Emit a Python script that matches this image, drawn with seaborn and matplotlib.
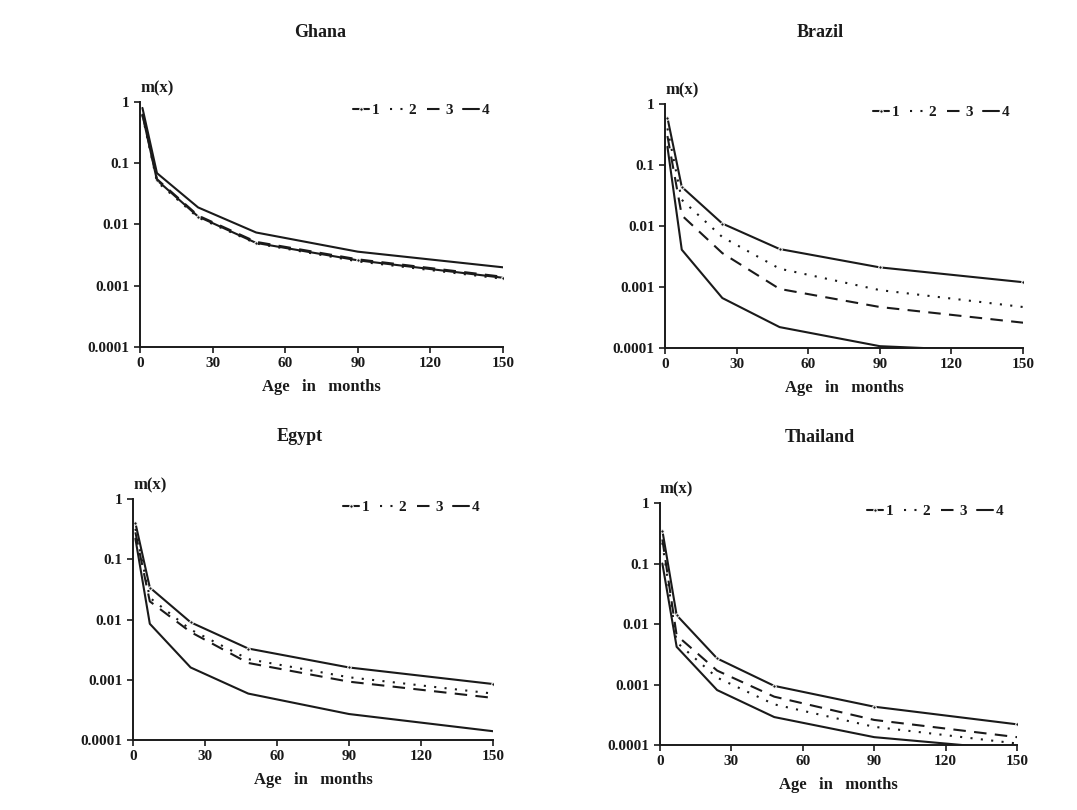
import numpy as np
import pandas as pd
import matplotlib
matplotlib.use('Agg')
import matplotlib.pyplot as plt
import seaborn as sns

# Edades (meses) en las que se leen las curvas
ages = [1, 7, 24, 48, 90, 150]

# m(x), una lista por pais y por curva (1..4)
ghana_1 = [0.62, 0.053, 0.0135, 0.0050, 0.0026, 0.00135]
ghana_2 = [0.60, 0.050, 0.0130, 0.0049, 0.0025, 0.00130]
ghana_3 = [0.64, 0.055, 0.0140, 0.0052, 0.0027, 0.00140]
ghana_4 = [0.80, 0.069, 0.0190, 0.0074, 0.0036, 0.00200]

brazil_1 = [0.60, 0.044, 0.0110, 0.0042, 0.0021, 0.00120]
brazil_2 = [0.40, 0.027, 0.0066, 0.0020, 0.00089, 0.00047]
brazil_3 = [0.30, 0.015, 0.0036, 0.00093, 0.00047, 0.00026]
brazil_4 = [0.20, 0.0041, 0.00066, 0.00022, 0.000107, 0.000085]

egypt_1 = [0.40, 0.034, 0.0090, 0.0033, 0.0016, 0.00085]
egypt_2 = [0.32, 0.023, 0.0068, 0.0022, 0.0011, 0.00059]
egypt_3 = [0.28, 0.020, 0.0062, 0.0019, 0.00093, 0.00050]
egypt_4 = [0.22, 0.0085, 0.0016, 0.00059, 0.00027, 0.00014]

thailand_1 = [0.35, 0.014, 0.0027, 0.00095, 0.00043, 0.00022]
thailand_2 = [0.22, 0.0050, 0.0013, 0.00047, 0.00020, 0.000106]
thailand_3 = [0.25, 0.0065, 0.0017, 0.00063, 0.00026, 0.000135]
thailand_4 = [0.10, 0.0042, 0.00081, 0.00029, 0.000135, 0.000083]

countries = ['Ghana', 'Brazil', 'Egypt', 'Thailand']
series = {
    'Ghana': [ghana_1, ghana_2, ghana_3, ghana_4],
    'Brazil': [brazil_1, brazil_2, brazil_3, brazil_4],
    'Egypt': [egypt_1, egypt_2, egypt_3, egypt_4],
    'Thailand': [thailand_1, thailand_2, thailand_3, thailand_4],
}
curve_labels = ['1', '2', '3', '4']
y_ticks = [0.0001, 0.001, 0.01, 0.1, 1]
y_ticklabels = ['0.0001', '0.001', '0.01', '0.1', '1']
x_ticks = [0, 30, 60, 90, 120, 150]

# estilos de cada curva
styles = [
    dict(linestyle='-', marker='.', markersize=5),
    dict(linestyle=(0, (1, 4)), marker=None),
    dict(linestyle=(0, (6, 4)), marker=None),
    dict(linestyle='-', marker=None),
]

sns.set_style('ticks')
plt.rcParams['font.family'] = ['Liberation Serif', 'DejaVu Serif']
plt.rcParams['font.weight'] = 'bold'

fig = plt.figure(figsize=(10.77, 8.10), dpi=100)
# posiciones de los paneles (fraccion de figura), separacion y centro del titulo
boxes = {
    'Ghana': [0.130, 0.5716, 0.337, 0.3025],
    'Brazil': [0.6175, 0.5704, 0.3324, 0.301],
    'Egypt': [0.1235, 0.0864, 0.3343, 0.2975],
    'Thailand': [0.6128, 0.0802, 0.3315, 0.2988],
}
pads = {'Ghana': 47, 'Brazil': 48, 'Egypt': 42, 'Thailand': 44}
title_x = {'Ghana': 0.496, 'Brazil': 0.433, 'Egypt': 0.464, 'Thailand': 0.448}
ink = '#1a1a1a'

for c in countries:
    ax = fig.add_axes(boxes[c])
    df = pd.DataFrame({'age': ages * 4,
                       'mx': sum(series[c], []),
                       'curve': np.repeat(curve_labels, len(ages))})
    for lab, st in zip(curve_labels, styles):
        sub = df[df['curve'] == lab]
        sns.lineplot(data=sub, x='age', y='mx', ax=ax, color=ink, linewidth=1.5,
                     label=lab, **st)
    ax.set_yscale('log')
    ax.set_xlim(0, 150)
    ax.set_ylim(0.0001, 1)
    ax.set_yticks(y_ticks)
    ax.set_yticklabels(y_ticklabels)
    ax.minorticks_off()
    ax.set_xticks(x_ticks)
    ax.tick_params(labelsize=11, colors=ink, length=4, width=1.2)
    for t in ax.get_xticklabels() + ax.get_yticklabels():
        t.set_fontweight('bold')
    sns.despine(ax=ax)
    for s in ['left', 'bottom']:
        ax.spines[s].set_linewidth(1.4)
        ax.spines[s].set_color(ink)
    ax.set_xlabel('Age   in   months', fontsize=12, color=ink, labelpad=6,
                  fontweight='bold')
    ax.set_ylabel('')
    ax.set_title(c, fontsize=13, color=ink, pad=pads[c], fontweight='bold',
                 x=title_x[c])
    ax.text(0.0, 1.04, 'm(x)', transform=ax.transAxes, fontsize=12, color=ink,
            fontweight='bold')
    leg = ax.legend(loc='upper right', bbox_to_anchor=(1.0, 1.05), ncol=4, frameon=False,
                    handlelength=1.0, handletextpad=0.2, columnspacing=0.7,
                    fontsize=11, labelcolor=ink)
    for t in leg.get_texts():
        t.set_fontweight('bold')

plt.savefig('out.png', dpi=100)
